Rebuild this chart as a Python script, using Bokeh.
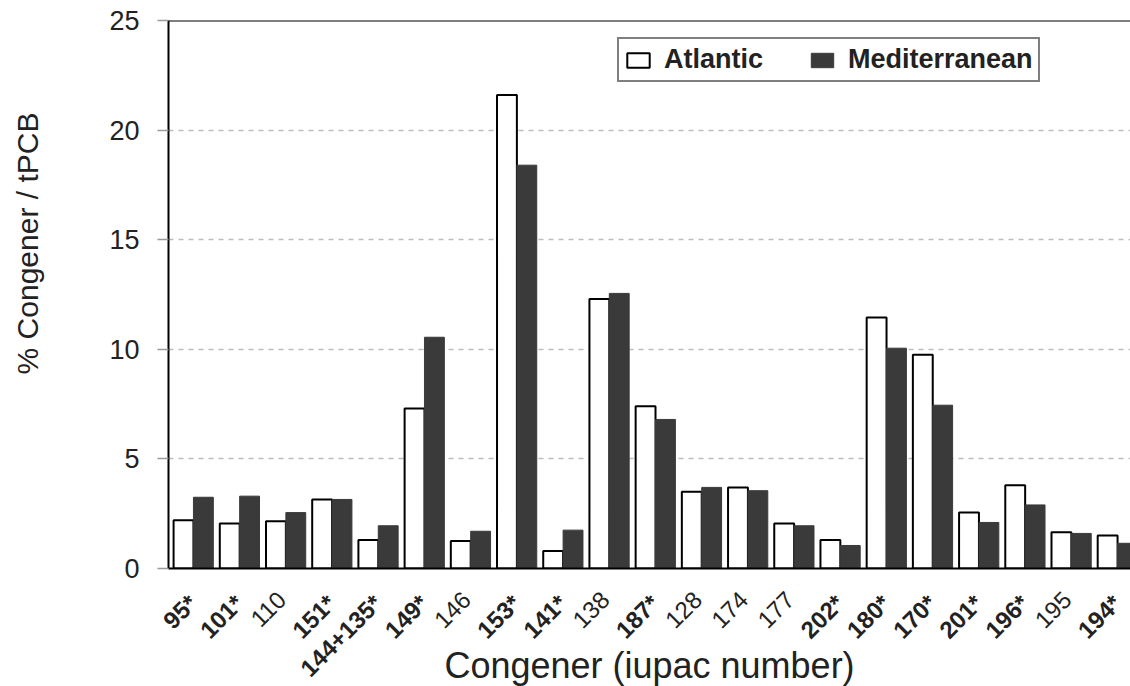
import numpy as np
from bokeh.plotting import figure
from bokeh.layouts import column, row
from bokeh.models import (Range1d, FixedTicker, Legend, LegendItem, Span,
                          ColumnDataSource)
from bokeh.core.properties import value
from bokeh.embed import file_html
from bokeh.resources import INLINE

# PCB congener profiles (% of total PCB), starred congeners are drawn in bold
congeners = ["95*", "101*", "110", "151*", "144+135*", "149*", "146", "153*",
             "141*", "138", "187*", "128", "174", "177", "202*", "180*",
             "170*", "201*", "196*", "195", "194*"]
atlantic = [2.2, 2.05, 2.15, 3.15, 1.3, 7.3, 1.25, 21.6, 0.8, 12.3, 7.4,
            3.5, 3.7, 2.05, 1.3, 11.45, 9.75, 2.55, 3.8, 1.65, 1.5]
mediterranean = [3.25, 3.3, 2.55, 3.15, 1.95, 10.55, 1.7, 18.4, 1.75, 12.55, 6.8,
                 3.7, 3.55, 1.95, 1.05, 10.05, 7.45, 2.1, 2.9, 1.6, 1.15]
y_ticks = [0, 5, 10, 15, 20, 25]

FONT = "Liberation Sans"
TEXT = "#222222"
DARK = "#3a3a3a"

# page geometry (pixels)
W, H = 1130, 686
TITLE_W = 60          # column holding the rotated y title
AXIS_W = 108          # y axis panel of the chart
MAIN_H = 586          # chart height (frame + margins)
STRIP_H = H - MAIN_H  # strip with category labels and x title

idx = np.arange(len(congeners))
bar_w = 0.43
x_start, x_end = -0.54, 20.28
x_range = Range1d(x_start, x_end)
unit_px = (W - TITLE_W - AXIS_W) / (x_end - x_start)


def bare_figure(width, height, x_rng, y_rng):
    """Figure without axes or grid whose frame fills the whole canvas."""
    f = figure(width=width, height=height, x_range=x_rng, y_range=y_rng,
               output_backend="svg", toolbar_location=None,
               x_axis_location=None, y_axis_location=None,
               min_border_left=0, min_border_top=0,
               min_border_bottom=0, min_border_right=0)
    f.frame_align = False
    f.outline_line_color = None
    f.grid.grid_line_color = None
    f.border_fill_color = "white"
    return f


# ---- main bar chart ----
p = figure(width=W - TITLE_W, height=MAIN_H, x_range=x_range, y_range=Range1d(0, 25),
           output_backend="svg", toolbar_location=None,
           min_border_left=AXIS_W, min_border_top=20,
           min_border_bottom=18, min_border_right=0)
p.frame_align = False
p.outline_line_color = None
p.border_fill_color = "white"

r_atl = p.vbar(x=idx - bar_w / 2, top=atlantic, width=bar_w,
               fill_color="white", line_color="black", line_width=2)
r_med = p.vbar(x=idx + bar_w / 2, top=mediterranean, width=bar_w,
               fill_color=DARK, line_color=DARK, line_width=1)

# top border of the plotting frame
p.add_layout(Span(location=25, dimension="width", line_color="black", line_width=2))

# y axis
p.yaxis.ticker = FixedTicker(ticks=y_ticks)
p.yaxis.minor_tick_line_color = None
p.yaxis.major_tick_in = 0
p.yaxis.major_tick_out = 11
p.yaxis.major_tick_line_color = "#9a9a9a"
p.yaxis.major_tick_line_width = 1.5
p.yaxis.axis_line_color = "black"
p.yaxis.axis_line_width = 2
p.yaxis.major_label_standoff = 18
p.yaxis.major_label_text_font = FONT
p.yaxis.major_label_text_font_size = "27px"
p.yaxis.major_label_text_color = TEXT

# x axis: only the base line; labels are drawn in the strip below
p.xaxis.ticker = FixedTicker(ticks=[])
p.xaxis.major_tick_out = 0
p.xaxis.major_tick_in = 0
p.xaxis.minor_tick_line_color = None
p.xaxis.axis_line_color = "black"
p.xaxis.axis_line_width = 2

# grid
p.xgrid.grid_line_color = None
p.ygrid.ticker = FixedTicker(ticks=y_ticks[1:-1])
p.ygrid.grid_line_color = "#bdbdbd"
p.ygrid.grid_line_dash = "5 5"
p.ygrid.grid_line_width = 1.5

legend = Legend(items=[LegendItem(label="Atlantic", renderers=[r_atl]),
                       LegendItem(label="Mediterranean", renderers=[r_med])],
                location=(449, 486), orientation="horizontal",
                label_text_font=FONT, label_text_font_size="27px",
                label_text_font_style="bold", label_text_color=TEXT,
                glyph_width=28, glyph_height=18, label_standoff=12,
                spacing=45, padding=5, margin=0,
                border_line_color="black", border_line_width=2,
                background_fill_color="white", background_fill_alpha=1)
p.add_layout(legend)

# ---- strip below the chart: rotated congener labels and x title ----
# its frame starts at the left edge of the chart column, so the x scale is
# extended to keep the categories aligned with the bars above
strip = bare_figure(W - TITLE_W, STRIP_H,
                    Range1d(x_start - AXIS_W / unit_px, x_end),
                    Range1d(-STRIP_H, 0))

for bold in (True, False):
    sel = [i for i, c in enumerate(congeners) if c.endswith("*") == bold]
    src = ColumnDataSource(dict(x=[i - 0.22 for i in sel],
                                text=[congeners[i] for i in sel]))
    strip.text(x="x", y=-3, text="text", source=src, angle=np.pi / 4,
               text_align="right", text_baseline="top",
               text_font=value(FONT), text_font_size=value("24px"),
               text_font_style="bold" if bold else "normal",
               text_color=TEXT)

strip.text(x=[(x_start + x_end) / 2], y=[-79],
           text=["Congener (iupac number)"], text_align="center",
           text_baseline="middle", text_font=value(FONT),
           text_font_size=value("36px"), text_color=TEXT)

# ---- narrow column with the rotated y title ----
ytitle = bare_figure(TITLE_W, H, Range1d(0, TITLE_W), Range1d(-H, 0))
ytitle.text(x=[27], y=[-243], text=["% Congener / tPCB"], angle=np.pi / 2,
            text_align="center", text_baseline="middle",
            text_font=value(FONT), text_font_size=value("30px"), text_color=TEXT)

layout = row(ytitle, column(p, strip, spacing=0), spacing=0)
open("out.html", "w").write(file_html(layout, INLINE))
